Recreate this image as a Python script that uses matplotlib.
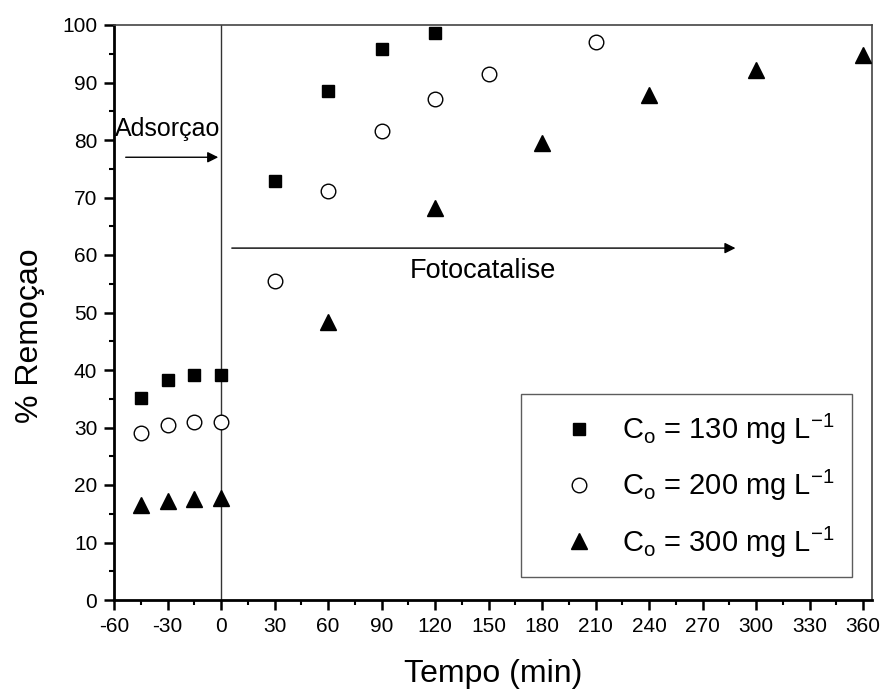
import matplotlib
matplotlib.use("Agg")
import matplotlib.pyplot as plt
from matplotlib.ticker import MultipleLocator

plt.rcParams['font.family'] = ['Liberation Sans', 'DejaVu Sans']
plt.rcParams['mathtext.fontset'] = 'custom'
plt.rcParams['mathtext.rm'] = 'Liberation Sans'
plt.rcParams['mathtext.it'] = 'Liberation Sans'
plt.rcParams['axes.unicode_minus'] = False

# Data
t_130 = [-45, -30, -15, 0, 30, 60, 90, 120]
r_130 = [35.2, 38.3, 39.1, 39.1, 72.8, 88.6, 95.9, 98.6]
t_200 = [-45, -30, -15, 0, 30, 60, 90, 120, 150, 210]
r_200 = [29.0, 30.4, 31.0, 31.0, 55.5, 71.2, 81.6, 87.2, 91.4, 97.1]
t_300 = [-45, -30, -15, 0, 60, 120, 180, 240, 300, 360]
r_300 = [16.5, 17.3, 17.6, 17.8, 48.4, 68.1, 79.5, 87.8, 92.1, 94.8]
labels = [r"C$_{\mathregular{o}}$ = 130 mg L$^{\mathregular{-1}}$",
          r"C$_{\mathregular{o}}$ = 200 mg L$^{\mathregular{-1}}$",
          r"C$_{\mathregular{o}}$ = 300 mg L$^{\mathregular{-1}}$"]
xticks = list(range(-60, 361, 30))
yticks = list(range(0, 101, 10))

fig = plt.figure(figsize=(8.84, 6.91), dpi=100)
ax = fig.add_axes([114/884, 91/691, (872-114)/884, (600-25)/691])

ax.axvline(0, color='#333333', lw=1.0, zorder=1)
ax.plot(t_130, r_130, ls='none', marker='s', ms=9, mfc='black', mec='black', label=labels[0], zorder=3)
ax.plot(t_200, r_200, ls='none', marker='o', ms=10.5, mfc='white', mec='black', mew=1.0, label=labels[1], zorder=3)
ax.plot(t_300, r_300, ls='none', marker='^', ms=12, mfc='black', mec='black', label=labels[2], zorder=3)

ax.set_xlim(-60, 365)
ax.set_ylim(0, 100)
ax.set_xticks(xticks)
ax.set_yticks(yticks)
ax.xaxis.set_minor_locator(MultipleLocator(15))
ax.yaxis.set_minor_locator(MultipleLocator(5))
ax.tick_params(which='major', direction='out', length=7, width=1.8, labelsize=15, pad=5)
ax.tick_params(which='minor', direction='out', length=3.5, width=1.5)
ax.tick_params(top=False, right=False, which='both')
for s in ['left', 'bottom']:
    ax.spines[s].set_linewidth(2)
for s in ['top', 'right']:
    ax.spines[s].set_linewidth(1.2)
    ax.spines[s].set_color('#444444')

ax.set_xlabel('Tempo (min)', fontsize=23, labelpad=17)
ax.set_ylabel('% Remoçao', fontsize=23)
ax.yaxis.set_label_coords(-0.091, 0.459)

# Annotations
ax.annotate('', xy=(0, 77), xytext=(-55, 77),
            arrowprops=dict(arrowstyle='-|>', color='black', lw=1.0, mutation_scale=16))
ax.text(-59.4, 80.7, 'Adsorçao', fontsize=18, ha='left', va='baseline')
ax.annotate('', xy=(290, 61.2), xytext=(4.5, 61.2),
            arrowprops=dict(arrowstyle='-|>', color='black', lw=1.0, mutation_scale=16))
ax.text(146.6, 56.0, 'Fotocatalise', fontsize=19.5, ha='center', va='baseline')

leg = ax.legend(loc='lower right', bbox_to_anchor=((852-114)/758, (600-577)/575),
                fontsize=21, frameon=True, fancybox=False, edgecolor='#333333',
                borderpad=0.6, labelspacing=0.72, handletextpad=0.09, borderaxespad=0,
                handlelength=2.78)
leg.get_frame().set_linewidth(1.0)

fig.savefig('out.png', dpi=100)
